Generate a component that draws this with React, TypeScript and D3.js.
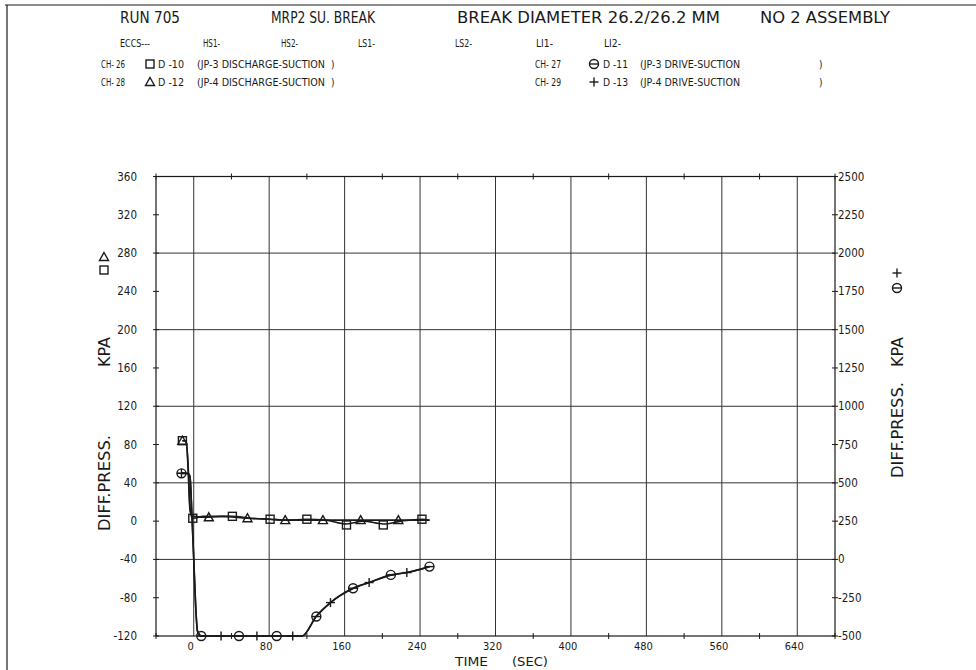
import React from "react";
import * as d3 from "d3";

// ---------- data ----------
const timeTicks = [0, 80, 160, 240, 320, 400, 480, 560, 640];
const timeMinorTicks = [-40, 40, 120, 200, 280, 360, 440, 520, 600, 680];
const leftTicks = [-120, -80, -40, 0, 40, 80, 120, 160, 200, 240, 280, 320, 360];
const rightTicks = [-500, -250, 0, 250, 500, 750, 1000, 1250, 1500, 1750, 2000, 2250, 2500];
const leftGrid = [-40, 40, 120, 200, 280];

// CH-26 (square, left axis) JP-3 discharge-suction
const ch26T = [-12, -8, -6, -4, -2, 0, 10, 20, 41, 60, 81, 100, 120, 140, 162, 180, 201, 220, 242, 250];
const ch26V = [84, 84, 60, 15, 4, 3, 5, 5, 5, 3, 2, 1, 2, 1, -3, 0, -3, 0, 2, 1];
const ch26MT = [-12, -1, 41, 81, 120, 162, 201, 242];
const ch26MV = [84, 3, 5, 2, 2, -4, -4, 2];

// CH-28 (triangle, left axis) JP-4 discharge-suction
const ch28T = [-12, -8, -6, -4, -2, 0, 16, 30, 57, 80, 97, 120, 137, 160, 177, 200, 217, 240, 250];
const ch28V = [84, 84, 55, 12, 6, 5, 4, 5, 3, 2, 1, 1, 1, 1, 1, 1, 1, 1, 1];
const ch28MT = [-12, 16, 57, 97, 137, 177, 217];
const ch28MV = [84, 4, 3, 1, 1, 1, 1];

// CH-27 (circle, right axis) JP-3 drive-suction
const ch27T = [-13, -6, -4, -2, 0, 2, 4, 8, 48, 88, 115, 130, 145, 169, 186, 209, 226, 250];
const ch27V = [562, 560, 540, 300, 0, -300, -470, -500, -500, -500, -500, -373, -282, -188, -151, -101, -86, -47];
const ch27MT = [-13, 8, 48, 88, 130, 169, 209, 250];
const ch27MV = [562, -500, -500, -500, -373, -188, -101, -47];

// CH-29 (plus, right axis) JP-4 drive-suction
const ch29T = [-13, -6, -4, -2, 0, 2, 4, 8, 29, 67, 105, 115, 130, 145, 169, 186, 209, 226, 250];
const ch29V = [565, 562, 545, 310, 10, -290, -465, -500, -500, -500, -500, -500, -370, -282, -190, -151, -103, -86, -48];
const ch29MT = [-13, 29, 67, 105, 145, 186, 226];
const ch29MV = [562, -500, -500, -500, -282, -151, -86];

// header texts
const title = ["RUN 705", "MRP2 SU. BREAK", "BREAK DIAMETER 26.2/26.2 MM", "NO 2 ASSEMBLY"];
const eccs = ["ECCS---", "HS1-", "HS2-", "LS1-", "LS2-", "LI1-", "LI2-"];

// ---------- layout ----------
const W = 976, H = 670;
const X0 = 156, X1 = 835, YT = 176.5, YB = 636;
const FONT = "'Liberation Sans Narrow', 'DejaVu Sans Condensed', 'DejaVu Sans', sans-serif";
const INK = "#1a1a1a";

const x = d3.scaleLinear().domain([-40, 680]).range([X0, X1]);
const yL = d3.scaleLinear().domain([-120, 360]).range([YB, YT]);
const yR = d3.scaleLinear().domain([-500, 2500]).range([YB, YT]);

function T(props: { x: number; y: number; w?: number; s: number; children: any; anchor?: string; rot?: boolean }) {
  const { x: px, y: py, w, s, children, anchor, rot } = props;
  const extra: any = {};
  if (w) { extra.textLength = w; extra.lengthAdjust = "spacingAndGlyphs"; }
  return (
    <text
      x={rot ? 0 : px}
      y={rot ? 0 : py}
      transform={rot ? `translate(${px},${py}) rotate(-90)` : undefined}
      fontFamily={FONT}
      fontSize={s}
      fill={INK}
      textAnchor={anchor || "start"}
      dominantBaseline="central"
      {...extra}
    >
      {children}
    </text>
  );
}

function Marker({ kind, cx, cy }: { kind: string; cx: number; cy: number }) {
  const st = { fill: "none", stroke: INK, strokeWidth: 1.4 };
  if (kind === "square") return <rect x={cx - 4} y={cy - 4} width={8} height={8} {...st} />;
  if (kind === "triangle")
    return <path d={`M${cx},${cy - 4.5}L${cx + 4.5},${cy + 3.5}L${cx - 4.5},${cy + 3.5}Z`} {...st} />;
  if (kind === "circle")
    return (
      <g>
        <circle cx={cx} cy={cy} r={4.5} {...st} />
        <line x1={cx - 4.5} x2={cx + 4.5} y1={cy} y2={cy} {...st} />
      </g>
    );
  return (
    <g>
      <line x1={cx - 4.5} x2={cx + 4.5} y1={cy} y2={cy} {...st} />
      <line x1={cx} x2={cx} y1={cy - 4.5} y2={cy + 4.5} {...st} />
    </g>
  );
}

function Series({ ts, vs, mts, mvs, y, kind }: any) {
  const pts: [number, number][] = ts.map((t: number, i: number) => [x(t), y(vs[i])]);
  const line = d3.line().curve(d3.curveMonotoneX)(pts) || "";
  return (
    <g>
      <path d={line} fill="none" stroke={INK} strokeWidth={1.6} />
      {mts.map((t: number, i: number) => (
        <Marker key={i} kind={kind} cx={x(t)} cy={y(mvs[i])} />
      ))}
    </g>
  );
}

export default function App() {
  return (
    <svg width={W} height={H} style={{ position: "absolute", left: 0, top: 0, background: "#fff" }}>
      <rect x={0} y={0} width={W} height={H} fill="#fff" />
      {/* page frame */}
      <line x1={5} x2={W} y1={5} y2={5} stroke={INK} strokeWidth={1.2} />
      <line x1={7} x2={7} y1={5} y2={H} stroke={INK} strokeWidth={1.2} />

      {/* header */}
      <T x={120} y={17} w={60} s={16}>{title[0]}</T>
      <T x={271} y={17} w={104} s={16}>{title[1]}</T>
      <T x={457} y={17} w={263} s={16}>{title[2]}</T>
      <T x={760} y={17} w={130} s={16}>{title[3]}</T>

      {[120, 203, 281, 358, 455, 536, 604].map((px, i) => (
        <T key={i} x={px} y={43} w={i === 0 ? 30 : 17} s={10}>{eccs[i]}</T>
      ))}

      <T x={101} y={64} w={24} s={10}>CH- 26</T>
      <Marker kind="square" cx={150} cy={64} />
      <T x={158} y={64} w={26} s={10}>D -10</T>
      <T x={197} y={64} w={128} s={10}>(JP-3 DISCHARGE-SUCTION</T>
      <T x={331} y={64} s={10}>)</T>
      <T x={535} y={64} w={26} s={10}>CH- 27</T>
      <Marker kind="circle" cx={594} cy={64} />
      <T x={603} y={64} w={25} s={10}>D -11</T>
      <T x={640} y={64} w={100} s={10}>(JP-3 DRIVE-SUCTION</T>
      <T x={819} y={64} s={10}>)</T>

      <T x={101} y={82} w={24} s={10}>CH- 28</T>
      <Marker kind="triangle" cx={150} cy={82} />
      <T x={158} y={82} w={26} s={10}>D -12</T>
      <T x={197} y={82} w={128} s={10}>(JP-4 DISCHARGE-SUCTION</T>
      <T x={331} y={82} s={10}>)</T>
      <T x={535} y={82} w={26} s={10}>CH- 29</T>
      <Marker kind="plus" cx={594} cy={82} />
      <T x={603} y={82} w={25} s={10}>D -13</T>
      <T x={640} y={82} w={100} s={10}>(JP-4 DRIVE-SUCTION</T>
      <T x={819} y={82} s={10}>)</T>

      {/* grid */}
      {timeTicks.map((t) => (
        <line key={"vg" + t} x1={x(t)} x2={x(t)} y1={YT} y2={YB} stroke="#333" strokeWidth={1} />
      ))}
      {leftGrid.map((v) => (
        <line key={"hg" + v} x1={X0} x2={X1} y1={yL(v)} y2={yL(v)} stroke="#333" strokeWidth={1} />
      ))}

      {/* frame */}
      <rect x={X0} y={YT} width={X1 - X0} height={YB - YT} fill="none" stroke={INK} strokeWidth={1.2} />

      {/* left axis */}
      {leftTicks.map((v) => (
        <g key={"lt" + v}>
          <line x1={X0 - 3} x2={X0 + 3} y1={yL(v)} y2={yL(v)} stroke={INK} strokeWidth={1} />
          <T x={137} y={yL(v)} s={11.5} anchor="end">{String(v)}</T>
        </g>
      ))}
      {/* right axis */}
      {rightTicks.map((v) => (
        <g key={"rt" + v}>
          <line x1={X1 - 3} x2={X1 + 3} y1={yR(v)} y2={yR(v)} stroke={INK} strokeWidth={1} />
          <T x={838} y={yR(v)} s={11.5}>{String(v)}</T>
        </g>
      ))}
      {/* bottom axis */}
      {timeTicks.map((t) => (
        <T key={"bt" + t} x={x(t) - 3} y={646} s={11} anchor="middle">{String(t)}</T>
      ))}
      {timeMinorTicks.map((t) => (
        <g key={"mt" + t}>
          <line x1={x(t)} x2={x(t)} y1={YB - 3} y2={YB + 3} stroke={INK} strokeWidth={1} />
          <line x1={x(t)} x2={x(t)} y1={YT - 3} y2={YT + 3} stroke={INK} strokeWidth={1} />
        </g>
      ))}

      {/* axis titles */}
      <T x={455} y={661} w={33} s={13}>TIME</T>
      <T x={512} y={661} w={36} s={13}>(SEC)</T>

      <T x={104} y={483} w={96} s={16} rot anchor="middle">DIFF.PRESS.</T>
      <T x={104} y={352} w={30} s={16} rot anchor="middle">KPA</T>
      <Marker kind="square" cx={104} cy={270} />
      <Marker kind="triangle" cx={104} cy={257} />

      <T x={897} y={430} w={96} s={16} rot anchor="middle">DIFF.PRESS.</T>
      <T x={897} y={352} w={30} s={16} rot anchor="middle">KPA</T>
      <Marker kind="circle" cx={897} cy={288} />
      <Marker kind="plus" cx={897} cy={273} />

      {/* data */}
      <Series ts={ch26T} vs={ch26V} mts={ch26MT} mvs={ch26MV} y={yL} kind="square" />
      <Series ts={ch28T} vs={ch28V} mts={ch28MT} mvs={ch28MV} y={yL} kind="triangle" />
      <Series ts={ch27T} vs={ch27V} mts={ch27MT} mvs={ch27MV} y={yR} kind="circle" />
      <Series ts={ch29T} vs={ch29V} mts={ch29MT} mvs={ch29MV} y={yR} kind="plus" />
    </svg>
  );
}
